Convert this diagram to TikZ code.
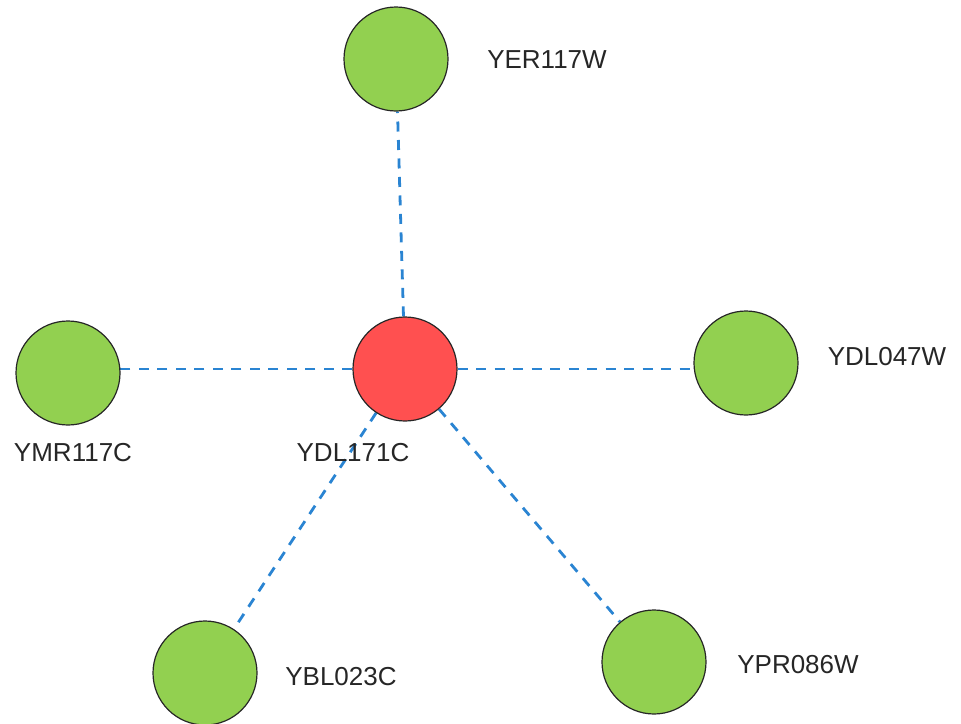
\documentclass[tikz,border=0pt]{standalone}
\usepackage{fontspec}
\setmainfont{Liberation Sans}
\usetikzlibrary{backgrounds}
\definecolor{genegreen}{HTML}{92D050}
\definecolor{hubred}{HTML}{FF5050}
\definecolor{linkblue}{HTML}{2A84D2}
\begin{document}
\begin{tikzpicture}[x=1pt,y=-1pt,
  gene/.style={circle, draw=black!85, line width=1.2pt, fill=genegreen, minimum size=104pt, inner sep=0pt},
  hub/.style={gene, fill=hubred},
  tag/.style={font=\fontsize{26}{30}\selectfont, text=black!85, inner sep=0pt},
  link/.style={draw=linkblue, line width=2.8pt, dash pattern=on 10pt off 8.5pt}]
\useasboundingbox (0,0) rectangle (961,723);
% genes
\node[hub]  (c) at (405,369) {};
\node[gene] (n) at (396,59) {};
\node[gene] (w) at (68,373) {};
\node[gene] (e) at (746,363) {};
\node[gene] (sw) at (205,673) {};
\node[gene] (se) at (654,662) {};
% names
\node[tag] (lc) at (353,453) {YDL171C};
\node[tag] (ln) at (547,60) {YER117W};
\node[tag] (lw) at (73,453) {YMR117C};
\node[tag] (le) at (887,357) {YDL047W};
\node[tag] (lsw) at (341,677) {YBL023C};
\node[tag] (lse) at (798,665) {YPR086W};
% interactions, kept behind the circles
\begin{scope}[on background layer]
\draw[link] (c) -- (n);
\draw[link] (c.west) -- (w.center |- c.west);
\draw[link] (c.east) -- (e.center |- c.east);
\draw[link] (c) -- (sw);
\draw[link] (c) -- (se);
\end{scope}
\end{tikzpicture}
\end{document}
